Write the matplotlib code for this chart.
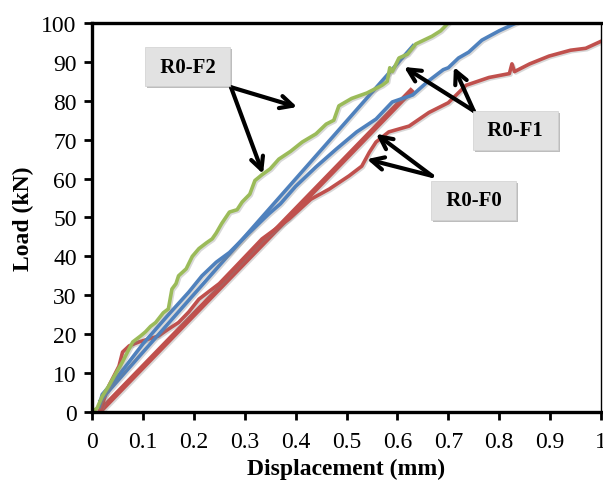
import matplotlib
matplotlib.use("Agg")
import matplotlib.pyplot as plt
import matplotlib.patheffects as pe

plt.rcParams['font.family'] = ['Liberation Serif', 'DejaVu Serif']

# R0-F2 (green)
f2_x = [0.0, 0.01, 0.02, 0.033, 0.045, 0.06, 0.07, 0.08, 0.095, 0.105, 0.115, 0.125, 0.14, 0.15, 0.157, 0.165,
        0.17, 0.185, 0.197, 0.21, 0.225, 0.236, 0.244, 0.255, 0.27, 0.285, 0.295, 0.31, 0.32, 0.334, 0.35,
        0.367, 0.39, 0.413, 0.44, 0.46, 0.475, 0.485, 0.51, 0.54, 0.57, 0.58, 0.585, 0.59, 0.603, 0.62,
        0.636, 0.668, 0.685, 0.7]
f2_y = [0.0, 1.0, 4.0, 6.7, 9.5, 12.9, 15.5, 18.0, 19.5, 20.6, 22.0, 23.0, 25.5, 26.5, 31.6, 33.0,
        35.0, 36.8, 40.0, 42.0, 43.5, 44.5, 46.0, 48.5, 51.4, 52.0, 54.0, 56.0, 59.5, 61.0, 62.5,
        65.0, 67.0, 69.4, 71.5, 74.0, 75.0, 78.7, 80.6, 82.0, 84.0, 85.0, 88.5, 87.5, 91.0, 92.0,
        94.6, 96.6, 98.0, 100.0]

# R0-F1 (blue) curve
f1_x = [0.014, 0.02, 0.05, 0.1, 0.15, 0.19, 0.216, 0.244, 0.27, 0.308, 0.348, 0.37, 0.4, 0.44, 0.48,
        0.52, 0.558, 0.59, 0.63, 0.66, 0.69, 0.7, 0.72, 0.74, 0.766, 0.8, 0.833]
f1_y = [1.5, 4.5, 9.0, 17.5, 25.0, 30.8, 35.0, 38.5, 41.0, 46.0, 51.0, 53.5, 58.0, 63.0, 67.6,
        72.0, 75.3, 79.7, 81.5, 85.0, 88.0, 88.5, 91.0, 92.5, 95.6, 98.0, 100.0]

# R0-F1 linear fit (blue)
f1_fit_x = [0.014, 0.633]
f1_fit_y = [2.6, 94.5]

# R0-F0 (red) curve
f0_x = [0.015, 0.033, 0.053, 0.06, 0.073, 0.092, 0.112, 0.13, 0.15, 0.17, 0.19, 0.21, 0.25, 0.283,
        0.334, 0.387, 0.43, 0.466, 0.505, 0.53, 0.545, 0.558, 0.583, 0.623, 0.662, 0.7, 0.735, 0.78,
        0.82, 0.825, 0.83, 0.86, 0.898, 0.94, 0.97, 1.0]
f0_y = [0.0, 6.7, 11.8, 15.4, 17.0, 18.0, 18.8, 19.5, 21.3, 23.0, 25.7, 29.0, 33.0, 37.5,
        44.5, 49.6, 54.7, 57.3, 60.7, 63.2, 66.8, 69.4, 72.0, 73.5, 77.0, 79.5, 84.0, 86.0,
        87.0, 89.5, 87.5, 89.5, 91.5, 93.0, 93.5, 95.3]

# R0-F0 linear fit (red)
f0_fit_x = [0.014, 0.63]
f0_fit_y = [0.0, 83.0]

x_ticks = [0, 0.1, 0.2, 0.3, 0.4, 0.5, 0.6, 0.7, 0.8, 0.9, 1]
x_tick_labels = ['0', '0.1', '0.2', '0.3', '0.4', '0.5', '0.6', '0.7', '0.8', '0.9', '1']
y_ticks = [0, 10, 20, 30, 40, 50, 60, 70, 80, 90, 100]

GREEN = '#9BBB59'
BLUE = '#4F81BD'
RED = '#C0504D'

fig = plt.figure(figsize=(6.03, 4.85), dpi=100)
ax = fig.add_axes([0.1526, 0.1485, 0.8441, 0.8020])

shadow = [pe.SimpleLineShadow(offset=(1, -1), shadow_color='gray', alpha=0.3), pe.Normal()]

ax.plot(f0_fit_x, f0_fit_y, color=RED, lw=4.0, solid_capstyle='butt', path_effects=shadow)
ax.plot(f0_x, f0_y, color=RED, lw=2.6, path_effects=shadow)
ax.plot(f1_fit_x, f1_fit_y, color=BLUE, lw=2.6, solid_capstyle='butt', path_effects=shadow)
ax.plot(f1_x, f1_y, color=BLUE, lw=2.6, path_effects=shadow)
ax.plot(f2_x, f2_y, color=GREEN, lw=2.6, path_effects=shadow)

ax.set_xlim(0, 1)
ax.set_ylim(0, 100)
ax.set_xticks(x_ticks)
ax.set_xticklabels(x_tick_labels)
ax.set_yticks(y_ticks)
ax.tick_params(direction='out', length=6, width=2, labelsize=17, colors='black', pad=5)
ax.tick_params(axis='x', pad=8)

for side in ['left', 'bottom', 'top']:
    ax.spines[side].set_linewidth(2.4)
ax.spines['right'].set_linewidth(1.0)

ax.set_xlabel('Displacement (mm)', fontsize=17, fontweight='bold', labelpad=4)
ax.set_ylabel('Load (kN)', fontsize=17, fontweight='bold', labelpad=5)

arrow_kw = dict(arrowstyle='->,head_length=0.9,head_width=0.45', color='black', lw=3.0,
                shrinkA=0, shrinkB=0)

def label(text, xy):
    t = ax.text(xy[0], xy[1], '\u00a0' + text + '\u00a0', fontsize=15, fontweight='bold',
                ha='center', va='center',
                bbox=dict(boxstyle='square,pad=0.46', facecolor='#e2e2e2', edgecolor='#d0d0d0', lw=0.5),
                zorder=5)
    t.get_bbox_patch().set_path_effects([pe.withSimplePatchShadow(offset=(1.5, -1.5), alpha=0.35)])

label('R0-F2', (0.188, 88.8))
label('R0-F1', (0.832, 72.4))
label('R0-F0', (0.75, 54.4))

# R0-F2 arrows
ax.annotate('', xy=(0.403, 78.4), xytext=(0.273, 83.5), arrowprops=arrow_kw)
ax.annotate('', xy=(0.336, 61.2), xytext=(0.273, 83.5), arrowprops=arrow_kw)
# R0-F1 arrows
ax.annotate('', xy=(0.613, 88.7), xytext=(0.75, 77.4), arrowprops=arrow_kw)
ax.annotate('', xy=(0.711, 88.7), xytext=(0.75, 77.4), arrowprops=arrow_kw)
# R0-F0 arrows
ax.annotate('', xy=(0.558, 71.5), xytext=(0.668, 60.7), arrowprops=arrow_kw)
ax.annotate('', xy=(0.54, 65.0), xytext=(0.668, 60.7), arrowprops=arrow_kw)

fig.savefig('out.png', dpi=100)
